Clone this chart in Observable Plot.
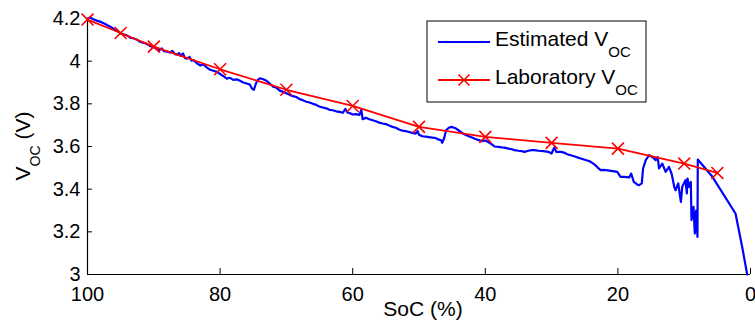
<!DOCTYPE html>
<html><head><meta charset="utf-8">
<script src="https://cdn.jsdelivr.net/npm/d3@7"></script>
<script src="https://cdn.jsdelivr.net/npm/@observablehq/plot@0.6"></script>
<style>body{margin:0;background:#fff} svg{display:block}</style>
</head><body><div id="chart"></div>
<script>
// Estimated open-circuit voltage (blue)
const estSoC = [100,99.6,99.2,98.6,98,97.4,97,96.5,96,95.5,95,94.5,94,93.5,93,92.5,92,91.5,91,90.5,90,89.6,89.2,88.8,88.5,88,87.5,87.2,86.8,86.5,86.2,86,85.6,85.3,85,84.6,84.3,84,83.5,83,82.5,82,81.5,81,80.5,80,79.5,79,78.5,78,77.5,77,76.5,76,75.5,75.2,74.9,74.6,74.3,74,73.5,73,72.5,72,71.5,71,70.5,70,69.5,69,68.5,68,67.5,67,66.5,66,65.5,65,64.5,64,63.5,63,62.5,62,61.5,61.1,60.8,60.5,60,59.5,59,58.7,58.5,58,57.5,57,56.5,56,55.5,55,54.5,54,53.5,53,52.5,52,51.5,51,50.5,50.2,50,49.5,49,48.5,48,47.5,47,46.7,46.5,46.2,45.9,45.5,45.1,44.7,44.4,44,43.4,43,42.5,42,41.5,41,40.5,40,39.5,39,38.6,38,37.5,37.1,36.5,36,35.6,35,34.5,34.1,33.5,33,32.6,32,31.2,30.5,30,29.6,29.3,28.6,28,27.5,27.1,26.5,26,25.6,25,24.5,24.1,23.5,23,22.6,22,21.5,21.1,20.5,20.1,19.6,19.1,18.3,18.0,17.6,17,16.8,16.4,16.2,15.8,15.3,14.8,14.3,14.0,13.8,13.3,12.8,12.3,11.9,11.5,11.3,10.9,10.5,10.3,9.8,9.6,9.5,9.3,9.0,8.9,8.6,8.4,8.2,8.0,7.95,5.74,2.26,1.26,0.5];
const estVoc = [4.20,4.205,4.198,4.19,4.184,4.175,4.168,4.16,4.15,4.142,4.13,4.125,4.12,4.11,4.106,4.10,4.09,4.086,4.08,4.07,4.065,4.058,4.05,4.06,4.047,4.045,4.04,4.048,4.033,4.03,4.038,4.025,4.036,4.015,4.012,4.02,4.002,4.005,3.99,3.98,3.985,3.97,3.96,3.955,3.95,3.94,3.93,3.918,3.922,3.912,3.915,3.908,3.90,3.895,3.89,3.872,3.866,3.895,3.912,3.92,3.915,3.908,3.895,3.88,3.876,3.862,3.856,3.85,3.842,3.836,3.832,3.822,3.817,3.81,3.806,3.80,3.795,3.787,3.783,3.779,3.772,3.77,3.765,3.762,3.758,3.776,3.76,3.757,3.75,3.752,3.748,3.772,3.728,3.735,3.728,3.723,3.718,3.712,3.708,3.705,3.698,3.692,3.688,3.68,3.674,3.672,3.668,3.664,3.66,3.672,3.655,3.648,3.646,3.644,3.642,3.64,3.632,3.63,3.617,3.64,3.677,3.688,3.692,3.688,3.684,3.675,3.661,3.655,3.648,3.642,3.635,3.63,3.625,3.628,3.62,3.61,3.60,3.598,3.596,3.595,3.59,3.587,3.583,3.58,3.578,3.575,3.58,3.583,3.583,3.58,3.578,3.575,3.567,3.595,3.575,3.575,3.57,3.562,3.559,3.553,3.548,3.544,3.538,3.533,3.528,3.515,3.50,3.489,3.49,3.488,3.486,3.483,3.481,3.458,3.458,3.455,3.473,3.434,3.42,3.419,3.427,3.497,3.536,3.559,3.551,3.536,3.55,3.497,3.52,3.481,3.504,3.473,3.411,3.395,3.427,3.34,3.411,3.442,3.38,3.45,3.411,3.434,3.255,3.317,3.192,3.30,3.176,3.539,3.458,3.286,3.13,3.0];

// Laboratory open-circuit voltage (red, x markers)
const labSoC = [100,95,90,80,70,60,50,40,30,20,10,5];
const labVoc = [4.195,4.132,4.068,3.962,3.866,3.79,3.692,3.645,3.617,3.59,3.52,3.476];

const xTicks = [100,80,60,40,20,0];
const xTickLabels = ["100","80","60","40","20","0"];
const yTicks = [3,3.2,3.4,3.6,3.8,4,4.2];
const yTickLabels = ["3","3.2","3.4","3.6","3.8","4","4.2"];
const legendNames = ["Estimated V","Laboratory V"];
const legendSub = "OC";
const xTitle = "SoC (%)";
const yTitleMain = "V", yTitleSub = "OC", yTitleUnit = " (V)";

const est = estSoC.map((s,i)=>({soc:s, v:estVoc[i]}));
const lab = labSoC.map((s,i)=>({soc:s, v:labVoc[i]}));

const FONT = "'Liberation Sans', Arial, Helvetica, sans-serif";
const FS = 20;

const svg = Plot.plot({
  width: 755, height: 325,
  marginLeft: 87, marginRight: 5, marginTop: 18, marginBottom: 51,
  style: {fontFamily: FONT, fontSize: FS + "px", background: "#fff", color: "#000", overflow: "visible"},
  x: {domain: [100, 0], label: null},
  y: {domain: [3, 4.2], label: null},
  marks: [
    Plot.axisX({ticks: xTicks, tickSize: 0, tickPadding: 12, fontSize: FS, tickFormat: (d) => xTickLabels[xTicks.indexOf(d)], label: null}),
    Plot.axisY({ticks: yTicks, tickSize: 0, tickPadding: 7, fontSize: FS, tickFormat: (d) => yTickLabels[yTicks.findIndex(t => Math.abs(t-d) < 1e-9)], label: null}),
    Plot.ruleX(xTicks, {x: d => d, y1: 3, y2: 3.028, stroke: "#000", strokeWidth: 1}),
    Plot.ruleY(yTicks, {y: d => d, x1: 100, x2: 99.25, stroke: "#000", strokeWidth: 1}),
    Plot.ruleY([3], {stroke: "#000", strokeWidth: 1.2}),
    Plot.ruleX([100], {stroke: "#000", strokeWidth: 1.2}),
    Plot.line(est, {x: "soc", y: "v", stroke: "#0000ff", strokeWidth: 2.2, strokeLinejoin: "round"}),
    Plot.line(lab, {x: "soc", y: "v", stroke: "#ff0000", strokeWidth: 1.8}),
    Plot.dot(lab, {x: "soc", y: "v", symbol: "times", r: 5.5, stroke: "#ff0000", strokeWidth: 1.6})
  ]
});
document.getElementById("chart").appendChild(svg);

const s = d3.select(svg);
// Axis titles
s.append("text").attr("x", 423).attr("y", 316).attr("text-anchor", "middle")
  .attr("font-family", FONT).attr("font-size", 21).attr("fill", "#000").text(xTitle);
const yt = s.append("text").attr("transform", "translate(30,146) rotate(-90)")
  .attr("text-anchor", "middle").attr("font-family", FONT).attr("font-size", 21).attr("fill", "#000");
yt.append("tspan").text(yTitleMain);
yt.append("tspan").attr("font-size", 14).attr("dy", 10).text(yTitleSub);
yt.append("tspan").attr("dy", -10).text(yTitleUnit);

// Legend
const lg = s.append("g").attr("font-family", FONT).attr("font-size", 21).attr("fill", "#000").attr("text-anchor", "start");
lg.append("rect").attr("x", 427).attr("y", 21).attr("width", 219).attr("height", 81)
  .attr("fill", "#fff").attr("stroke", "#000").attr("stroke-width", 1);
const rows = [{y: 42, color: "#0000ff", marker: false, base: 45.5}, {y: 80, color: "#ff0000", marker: true, base: 83.5}];
rows.forEach((r, i) => {
  lg.append("line").attr("x1", 438).attr("x2", 490).attr("y1", r.y).attr("y2", r.y)
    .attr("stroke", r.color).attr("stroke-width", 1.8);
  if (r.marker) {
    lg.append("path").attr("d", `M${464-5.5},${r.y-5.5}L${464+5.5},${r.y+5.5}M${464-5.5},${r.y+5.5}L${464+5.5},${r.y-5.5}`)
      .attr("stroke", r.color).attr("stroke-width", 1.6).attr("fill", "none");
  }
  const t = lg.append("text").attr("x", 495).attr("y", r.base).attr("text-anchor", "start");
  t.append("tspan").text(legendNames[i]);
  t.append("tspan").attr("font-size", 15).attr("dy", 11.5).text(legendSub);
});
</script>
</body></html>
